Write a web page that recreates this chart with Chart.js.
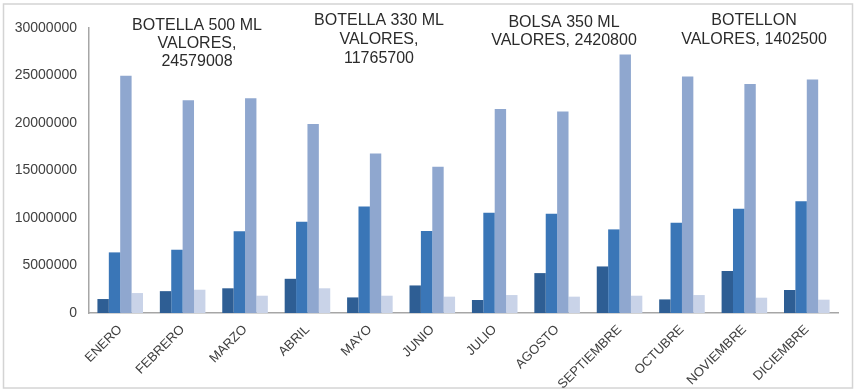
<!DOCTYPE html>
<html>
<head>
<meta charset="utf-8">
<script src="https://cdn.jsdelivr.net/npm/chart.js@4/dist/chart.umd.min.js"></script>
<style>
html,body{margin:0;padding:0;background:#fff;}
#wrap{position:relative;width:855px;height:390px;}
</style>
</head>
<body>
<div id="wrap"><canvas id="c" width="855" height="390"></canvas></div>
<script>
const months = ["ENERO","FEBRERO","MARZO","ABRIL","MAYO","JUNIO","JULIO","AGOSTO","SEPTIEMBRE","OCTUBRE","NOVIEMBRE","DICIEMBRE"];
const seriesNames = ["BOLSA 350 ML","BOTELLA 330 ML","BOTELLA 500 ML","BOTELLON"];
const bolsa350 = [1470000, 2300000, 2600000, 3600000, 1640000, 2900000, 1370000, 4200000, 4900000, 1430000, 4420000, 2420800];
const botella330 = [6380000, 6660000, 8600000, 9600000, 11200000, 8630000, 10560000, 10450000, 8800000, 9500000, 10980000, 11765700];
const botella500 = [24980000, 22400000, 22600000, 19900000, 16800000, 15400000, 21470000, 21200000, 27200000, 24900000, 24100000, 24579008];
const botellon = [2100000, 2450000, 1820000, 2600000, 1820000, 1720000, 1890000, 1720000, 1820000, 1890000, 1610000, 1402500];
const yTicks = [0, 5000000, 10000000, 15000000, 20000000, 25000000, 30000000];

const colors = ["#2E5E94", "#3A76B7", "#8FA7CF", "#C9D3E8"];
const seriesData = [bolsa350, botella330, botella500, botellon];

// Floating value labels (series name + last value), placed like the reference
const labelBoxes = [
  {series: 2, x: 197, ys: [26, 44, 62], split: 3},
  {series: 1, x: 379, ys: [21, 40, 59], split: 3},
  {series: 0, x: 564, ys: [22.5, 41], split: 2},
  {series: 3, x: 754, ys: [21, 40], split: 2}
];

const overlay = {
  id: 'overlay',
  beforeDraw(chart) {
    const ctx = chart.ctx;
    ctx.save();
    ctx.fillStyle = '#fff';
    ctx.fillRect(0, 0, chart.width, chart.height);
    ctx.strokeStyle = '#d4d4d4';
    ctx.lineWidth = 1.5;
    ctx.strokeRect(3.5, 4, 849, 384);
    ctx.restore();
  },
  afterDraw(chart) {
    const ctx = chart.ctx;
    ctx.save();
    ctx.font = '16px "Liberation Sans", Arial, sans-serif';
    ctx.fillStyle = '#2b2b2b';
    ctx.textAlign = 'center';
    ctx.textBaseline = 'middle';
    labelBoxes.forEach(b => {
      const name = seriesNames[b.series];
      const arr = seriesData[b.series];
      const val = String(arr[arr.length - 1]);
      const lines = b.split === 3 ? [name, 'VALORES,', val] : [name, 'VALORES, ' + val];
      lines.forEach((t, i) => ctx.fillText(t, b.x, b.ys[i]));
    });
    ctx.restore();
  }
};

new Chart(document.getElementById('c'), {
  type: 'bar',
  data: {
    labels: months,
    datasets: seriesNames.map((n, i) => ({
      label: n,
      data: seriesData[i],
      backgroundColor: colors[i],
      borderWidth: 0,
      barPercentage: 1.0,
      categoryPercentage: 0.73
    }))
  },
  options: {
    responsive: false,
    animation: false,
    devicePixelRatio: 1,
    layout: {padding: {top: 28, right: 17, bottom: 0, left: 0}},
    plugins: {legend: {display: false}, tooltip: {enabled: false}},
    scales: {
      x: {
        grid: {display: false, drawTicks: false},
        border: {display: true, color: '#a6a6a6', width: 1.5},
        ticks: {
          color: '#404040',
          font: {family: '"Liberation Sans", Arial, sans-serif', size: 13},
          maxRotation: 45, minRotation: 45, autoSkip: false, padding: 9
        },
        afterFit(s) { s.height = 77; }
      },
      y: {
        min: 0, max: 30000000,
        grid: {display: false, drawTicks: false},
        border: {display: true, color: '#a6a6a6', width: 1.5},
        afterBuildTicks(s) { s.ticks = yTicks.map(v => ({value: v})); },
        ticks: {
          color: '#404040',
          font: {family: '"Liberation Sans", Arial, sans-serif', size: 14},
          padding: 12,
          callback: v => String(v)
        },
        afterFit(s) { s.width = 89; }
      }
    }
  },
  plugins: [overlay]
});
</script>
</body>
</html>
